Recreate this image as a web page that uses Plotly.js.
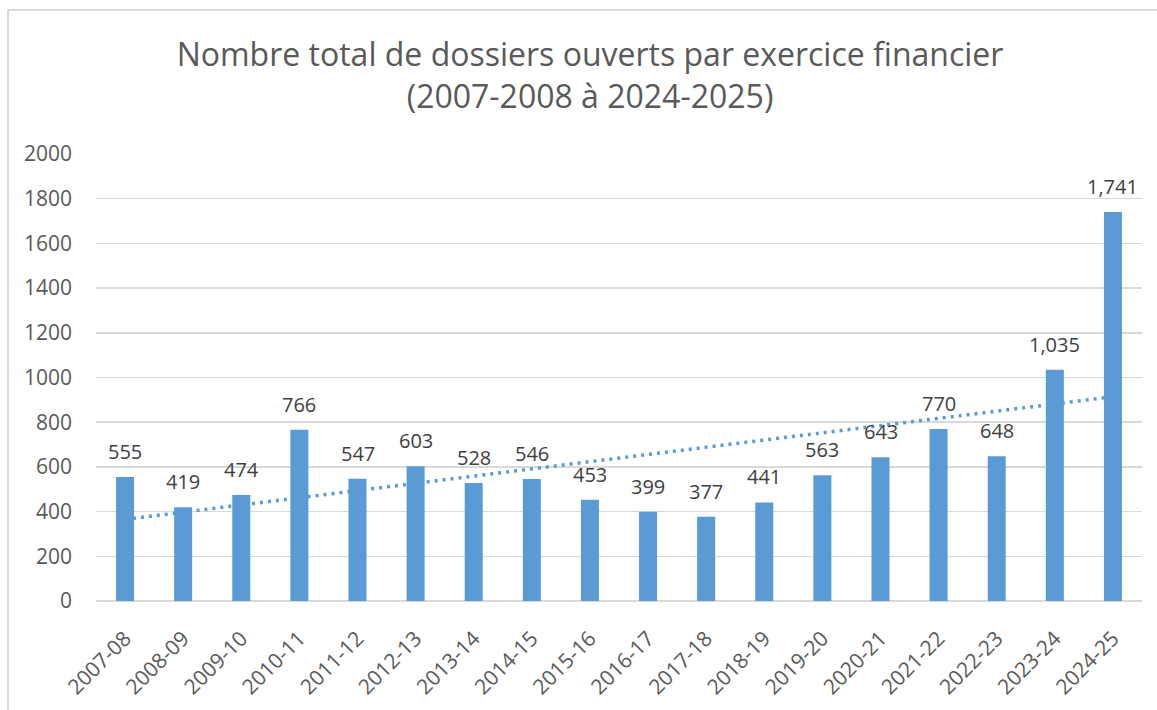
<!DOCTYPE html>
<html>
<head>
<meta charset="utf-8">
<script src="https://cdn.plot.ly/plotly-3.0.1.min.js"></script>
<style>html,body{margin:0;padding:0;background:#fff;}#chart{width:1157px;height:710px;}</style>
</head>
<body>
<div id="chart"></div>
<script>
const categories = ["2007-08","2008-09","2009-10","2010-11","2011-12","2012-13","2013-14","2014-15","2015-16","2016-17","2017-18","2018-19","2019-20","2020-21","2021-22","2022-23","2023-24","2024-25"];
const values = [555,419,474,766,547,603,528,546,453,399,377,441,563,643,770,648,1035,1741];
const trendCategories = ["2007-08","2024-25"];
const trendValues = [365,914];
const yTicks = [0,200,400,600,800,1000,1200,1400,1600,1800,2000];

const W = 1157, H = 710;
const L = 96, R = 15, T = 154, B = 109;
const pw = W - L - R, ph = H - T - B;
const px = v => (v - L) / pw;
const py = v => (H - B - v) / ph;

const fmt = v => v >= 1000 ? v.toLocaleString('en-US') : String(v);
const FONT = 'Open Sans, Noto Sans, sans-serif';

const bars = {
  type: 'bar', x: categories, y: values,
  marker: {color: '#5B9BD5'},
  width: 0.31,
  hoverinfo: 'x+y', showlegend: false
};
const trend = {
  type: 'scatter', mode: 'lines', x: trendCategories, y: trendValues,
  line: {color: '#5B9BD5', width: 3.5, dash: '3px,5px'},
  showlegend: false, hoverinfo: 'skip'
};

const labels = categories.map((c, i) => ({
  x: c, y: values[i], xref: 'x', yref: 'y',
  text: fmt(values[i]), showarrow: false,
  yanchor: 'bottom', yshift: 10,
  font: {family: FONT, size: 20, color: '#404040'}
}));

const layout = {
  width: W, height: H,
  margin: {l: L, r: R, t: T, b: B, pad: 0},
  paper_bgcolor: '#fff', plot_bgcolor: '#fff',
  font: {family: FONT, color: '#595959'},
  title: {
    text: 'Nombre total de dossiers ouverts par exercice financier<br>(2007-2008 à 2024-2025)',
    font: {family: FONT, size: 32, color: '#595959'},
    x: 590 / W, xanchor: 'center', xref: 'container',
    y: 1 - 66 / H, yanchor: 'top', yref: 'container'
  },
  bargap: 0.69,
  xaxis: {
    type: 'category', tickangle: -45, showgrid: false, zeroline: false,
    showline: false, ticks: '', ticklabelstandoff: 20,
    tickfont: {family: FONT, size: 21, color: '#595959'}
  },
  yaxis: {
    range: [0, 2000], tickvals: yTicks, ticktext: yTicks.map(String),
    showgrid: true, gridcolor: '#D9D9D9', gridwidth: 1.5,
    zeroline: true, zerolinecolor: '#D9D9D9', zerolinewidth: 1.5,
    showline: false, ticks: '', ticklabelstandoff: 23,
    tickfont: {family: FONT, size: 21, color: '#595959'}
  },
  annotations: labels,
  shapes: [{
    type: 'rect', xref: 'paper', yref: 'paper',
    x0: px(8), x1: px(1180), y0: py(740), y1: py(10),
    line: {color: '#D0D0D0', width: 1.5}, fillcolor: 'rgba(0,0,0,0)', layer: 'above'
  }]
};

Plotly.newPlot('chart', [bars, trend], layout, {displayModeBar: false, staticPlot: true});
</script>
</body>
</html>
